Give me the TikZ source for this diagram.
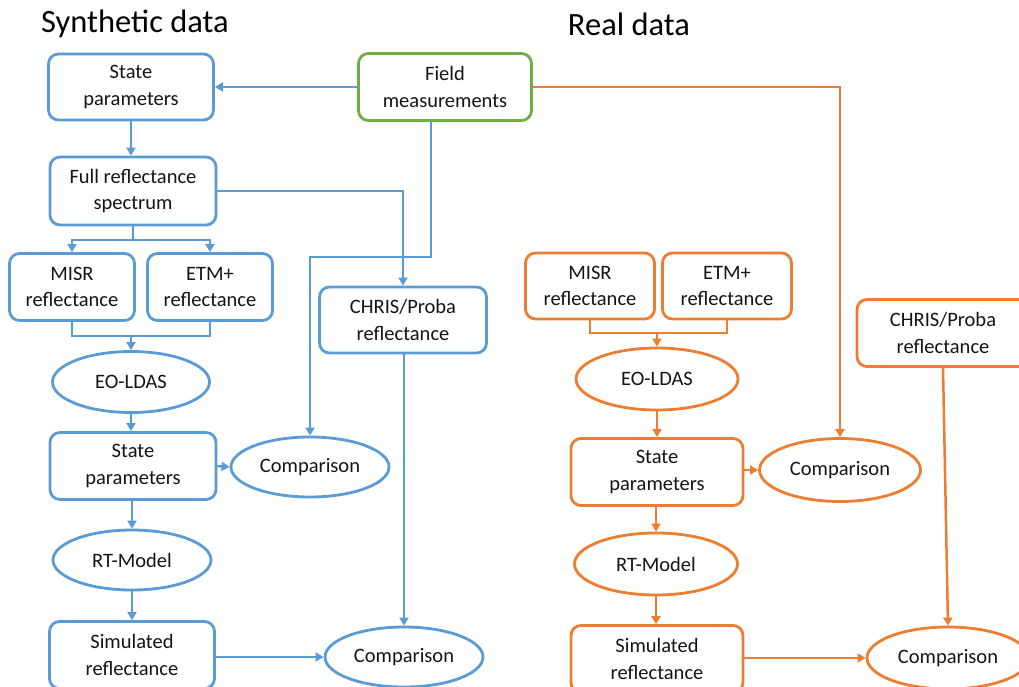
\documentclass[tikz,border=0pt]{standalone}
\usepackage{fontspec}
\setmainfont{Carlito}
\usetikzlibrary{shapes.geometric,arrows.meta}
\definecolor{cblue}{HTML}{5B9BD5}
\definecolor{corange}{HTML}{ED7D31}
\definecolor{cgreen}{HTML}{70AD47}
\definecolor{ctext}{HTML}{141414}
\tikzset{
  box/.style={draw, rounded corners=10pt, line width=2.8pt, align=center, inner sep=0pt,
    text=ctext, font=\fontsize{20.5}{26.5}\selectfont},
  oval/.style={draw, ellipse, line width=2.8pt, align=center, inner sep=0pt,
    text=ctext, font=\fontsize{20.5}{26.5}\selectfont},
  conn/.style={line width=2.5pt, -{Triangle[length=8pt,width=9pt]}},
  line/.style={line width=2.5pt},
  title/.style={text=black, font=\fontsize{32.5}{38}\selectfont}
}
\begin{document}
\begin{tikzpicture}[x=1pt,y=-1pt]
\useasboundingbox (0,0) rectangle (1019,687);
\clip (0,0) rectangle (1019,687);
% titles
\node[title] (t1) at (135,24) {Synthetic data};
\node[title] (t2) at (629,24) {Real data};
% left column
\node[box, draw=cblue, minimum width=165, minimum height=66] (sp1) at (131,87) {State\\parameters};
\node[box, draw=cgreen, minimum width=173, minimum height=67] (field) at (445,87) {Field\\measurements};
\node[box, draw=cblue, minimum width=166, minimum height=68] (full) at (133,191) {Full reflectance\\spectrum};
\node[box, draw=cblue, minimum width=125, minimum height=67] (misr) at (72,287) {MISR\\reflectance};
\node[box, draw=cblue, minimum width=125, minimum height=67] (etm) at (210,287) {ETM+\\reflectance};
\node[box, draw=cblue, minimum width=167, minimum height=66] (chris) at (403,320) {CHRIS/Proba\\reflectance};
\node[oval, draw=cblue, minimum width=157, minimum height=61] (eo) at (131,382) {EO-LDAS};
\node[box, draw=cblue, minimum width=166, minimum height=67] (sp2) at (133,466) {State\\parameters};
\node[oval, draw=cblue, minimum width=158, minimum height=60] (comp1) at (310,467) {Comparison};
\node[oval, draw=cblue, minimum width=158, minimum height=60] (rt) at (132,560) {RT-Model};
\node[box, draw=cblue, minimum width=165, minimum height=67] (sim) at (132,655) {Simulated\\reflectance};
\node[oval, draw=cblue, minimum width=158, minimum height=60] (comp2) at (404,657) {Comparison};
% right column
\node[box, draw=corange, minimum width=129, minimum height=66] (misr2) at (590,286) {MISR\\reflectance};
\node[box, draw=corange, minimum width=129, minimum height=66] (etm2) at (727,286) {ETM+\\reflectance};
\node[box, draw=corange, minimum width=172, minimum height=67] (chris2) at (943,333) {CHRIS/Proba\\reflectance};
\node[oval, draw=corange, minimum width=162, minimum height=62] (eo2) at (657,379) {EO-LDAS};
\node[box, draw=corange, minimum width=172, minimum height=67] (sp2r) at (657,472) {State\\parameters};
\node[oval, draw=corange, minimum width=161, minimum height=63] (comp3) at (840,470) {Comparison};
\node[oval, draw=corange, minimum width=163, minimum height=62] (rt2) at (656,564) {RT-Model};
\node[box, draw=corange, minimum width=172, minimum height=67] (sim2) at (657,659) {Simulated\\reflectance};
\node[oval, draw=corange, minimum width=162, minimum height=62] (comp4) at (948,658) {Comparison};
% junction coordinates
\coordinate (fdown) at (431,120);
\coordinate (j1) at (310,257);
\coordinate (jb) at (133,240);
\coordinate (jm) at (131,336);
\coordinate (jm2) at (657,333);
% blue connectors
\draw[conn, cblue] (field.west) -- (sp1.east);
\draw[conn, cblue] (sp1.south) -- (full.north -| sp1.south);
\draw[conn, cblue] (full.east) -| (chris.north);
\draw[conn, cblue] (fdown) |- (j1) -- (comp1.north);
\draw[line, cblue] (full.south) -- (jb);
\draw[conn, cblue] (jb) -| (misr.north);
\draw[conn, cblue] (jb) -| (etm.north);
\draw[line, cblue] (misr.south) |- (jm) -| (etm.south);
\draw[conn, cblue] (jm) -- (eo.north);
\draw[conn, cblue] (eo.south) -- (sp2.north -| eo.south);
\draw[conn, cblue] (sp2.east) -- (comp1.west);
\draw[conn, cblue] (sp2.south -| rt.north) -- (rt.north);
\draw[conn, cblue] (rt.south) -- (sim.north -| rt.south);
\draw[conn, cblue] (sim.east |- comp2.west) -- (comp2.west);
\draw[conn, cblue] (chris.south -| comp2.north) -- (comp2.north);
% orange connectors
\draw[conn, corange] (field.east) -| (comp3.north);
\draw[line, corange] (misr2.south) |- (jm2) -| (etm2.south);
\draw[conn, corange] (jm2) -- (eo2.north);
\draw[conn, corange] (eo2.south) -- (sp2r.north);
\draw[conn, corange] (sp2r.east |- comp3.west) -- (comp3.west);
\draw[conn, corange] (sp2r.south -| rt2.north) -- (rt2.north);
\draw[conn, corange] (rt2.south) -- (sim2.north -| rt2.south);
\draw[conn, corange] (sim2.east |- comp4.west) -- (comp4.west);
\draw[conn, corange] (chris2.south) -- (comp4.north);
\end{tikzpicture}
\end{document}
